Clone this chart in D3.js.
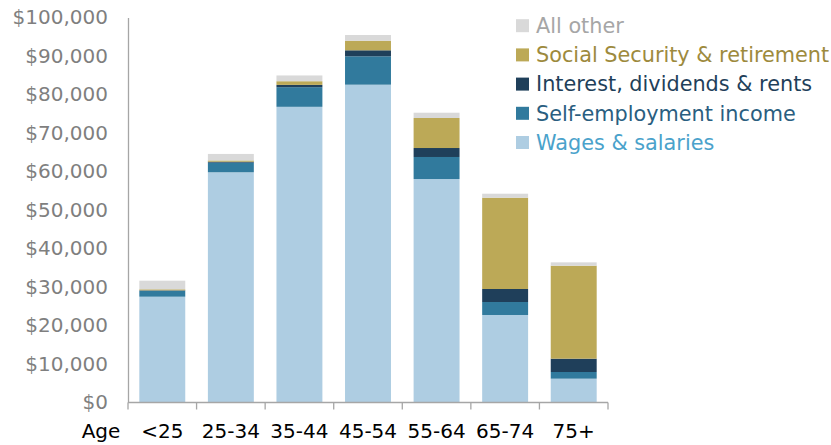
<!DOCTYPE html>
<html lang="en">
<head>
<meta charset="UTF-8">
<title>Income by source and age</title>
<style>
  body { margin: 0; background: #fff; }
  svg text { font-family: "Century Gothic", "DejaVu Sans", sans-serif; }
</style>
</head>
<body>
<svg id="chart" width="831" height="445"></svg>

<script src="https://d3js.org/d3.v7.min.js"></script>
<script>
const ages = ["<25", "25-34", "35-44", "45-54", "55-64", "65-74", "75+"];
const wages = [27480, 59800, 76800, 82550, 58050, 22730, 6190];
const selfEmp = [1560, 2500, 5100, 7370, 5720, 3370, 1730];
const interest = [100, 250, 600, 1560, 2330, 3380, 3460];
const socialSec = [260, 320, 950, 2490, 7800, 23720, 24150];
const allOther = [2240, 1690, 1500, 1480, 1370, 1030, 870];
const yTicks = [0, 10000, 20000, 30000, 40000, 50000, 60000, 70000, 80000, 90000, 100000];

const series = [
  { key: "wages", label: "Wages & salaries", values: wages, fill: "#aecde2", text: "#4aa2cb" },
  { key: "selfEmp", label: "Self-employment income", values: selfEmp, fill: "#317a9d", text: "#2a5e80" },
  { key: "interest", label: "Interest, dividends & rents", values: interest, fill: "#1f3f5a", text: "#1f3f5a" },
  { key: "socialSec", label: "Social Security & retirement", values: socialSec, fill: "#bca957", text: "#9d8a3d" },
  { key: "allOther", label: "All other", values: allOther, fill: "#d9d9d9", text: "#a6a6a6" }
];

const svg = d3.select("#chart");
const plotLeft = 128, plotRight = 608, plotTop = 17.5, plotBottom = 402.5;

// rows for the stack
const rows = ages.map((a, i) => {
  const r = { age: a };
  series.forEach(s => { r[s.key] = s.values[i]; });
  return r;
});
const stacked = d3.stack().keys(series.map(s => s.key))(rows);

const x = d3.scaleBand()
  .domain(ages)
  .range([plotLeft, plotRight])
  .paddingInner(0.33)
  .paddingOuter(0.165);

const y = d3.scaleLinear()
  .domain([0, 100000])
  .range([plotBottom, plotTop]);

// bars
svg.append("g").selectAll("g")
  .data(stacked)
  .join("g")
  .attr("fill", (d, i) => series[i].fill)
  .selectAll("rect")
  .data(d => d)
  .join("rect")
  .attr("x", d => x(d.data.age))
  .attr("width", x.bandwidth())
  .attr("y", d => y(d[1]))
  .attr("height", d => y(d[0]) - y(d[1]));

// y axis
const yAxis = d3.axisLeft(y)
  .tickValues(yTicks)
  .tickSize(0)
  .tickPadding(20)
  .tickFormat(d => "$" + d3.format(",")(d));

const gy = svg.append("g")
  .attr("transform", `translate(${plotLeft},0)`)
  .call(yAxis);
gy.select(".domain").attr("stroke", "#a6a6a6").attr("stroke-width", 1.3);
gy.selectAll("text")
  .attr("fill", "#7f7f7f")
  .style("font-size", "20px");

// x axis: labels at band centres, ticks at band edges
const gx = svg.append("g")
  .attr("transform", `translate(0,${plotBottom})`);
gx.append("line")
  .attr("x1", plotLeft).attr("x2", plotRight)
  .attr("stroke", "#a6a6a6").attr("stroke-width", 1.3);
const edges = ages.map(a => x(a) - x.step() * x.paddingInner() / 2).concat([plotRight]);
gx.selectAll(".edge")
  .data(edges)
  .join("line")
  .attr("class", "edge")
  .attr("x1", d => d).attr("x2", d => d)
  .attr("y1", 0).attr("y2", 7)
  .attr("stroke", "#a6a6a6").attr("stroke-width", 1.3);
gx.selectAll(".lbl")
  .data(ages)
  .join("text")
  .attr("class", "lbl")
  .attr("x", d => x(d) + x.bandwidth() / 2)
  .attr("y", 35)
  .attr("text-anchor", "middle")
  .attr("fill", "#000")
  .style("font-size", "20px")
  .text(d => d);
gx.append("text")
  .attr("x", 101)
  .attr("y", 35)
  .attr("text-anchor", "middle")
  .attr("fill", "#000")
  .style("font-size", "20px")
  .text("Age");

// legend, top entry is the top of the stack
const legend = svg.append("g").attr("transform", "translate(516,0)");
const items = legend.selectAll("g")
  .data(series.slice().reverse())
  .join("g")
  .attr("transform", (d, i) => `translate(0,${25.7 + i * 29.2})`);
items.append("rect")
  .attr("x", 0).attr("y", -6.5)
  .attr("width", 13).attr("height", 13)
  .attr("fill", d => d.fill);
items.append("text")
  .attr("x", 20)
  .attr("dy", "0.35em")
  .attr("fill", d => d.text)
  .style("font-size", "20.8px")
  .text(d => d.label);
</script>
</body>
</html>
